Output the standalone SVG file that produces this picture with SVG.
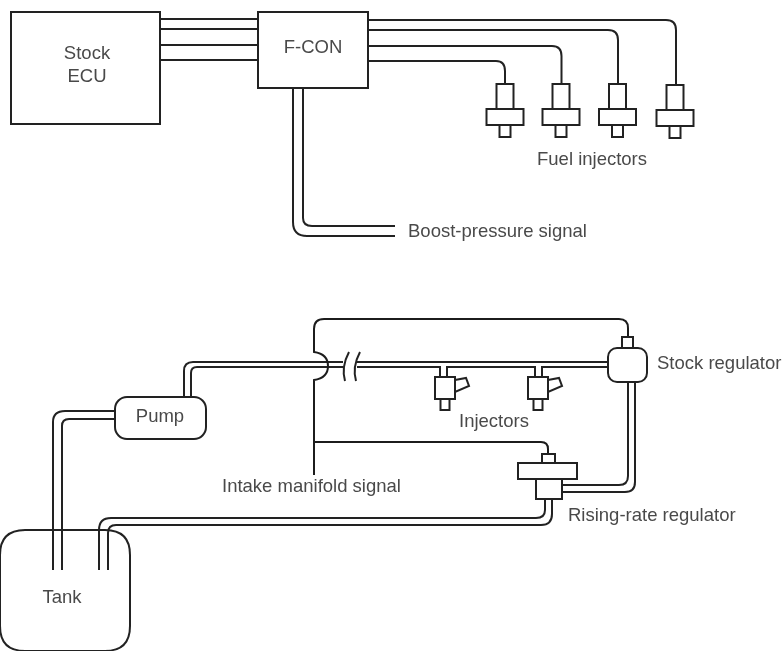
<svg xmlns="http://www.w3.org/2000/svg" width="784" height="651" viewBox="0 0 784 651">
<defs>
<style>
.s{fill:none;stroke:#222;stroke-width:2}
.b{fill:#fff;stroke:#222;stroke-width:2}
.n{fill:none;stroke:#1c1c1c;stroke-width:2}
text{font-family:"Liberation Sans",Arial,sans-serif;font-size:18.5px;fill:#4a4a4a}
.m{text-anchor:middle}
</style>
<filter id="soft" x="-2%" y="-2%" width="104%" height="104%"><feGaussianBlur stdDeviation="0.6"/></filter>
<g id="inj"><rect class="b" x="-8.500" y="0" width="17" height="25"/><rect class="b" x="-18.500" y="25" width="37" height="16"/><rect class="b" x="-5.500" y="41" width="11" height="12"/></g>
<g id="rail-inj"><path class="b" d="M10 380L21 378L24 386L10 392Z"/><rect class="b" x="-10" y="377" width="20" height="22"/><rect class="b" x="-4.500" y="399" width="9" height="11"/></g>
</defs>
<rect width="784" height="651" fill="#fff"/>
<g filter="url(#soft)">
<g id="connectors">
<path class="s" d="M160 19H258M160 29H258M160 45H258M160 60H258"/>
<path class="s" d="M368 20H666Q676 20 676 30V85M368 30H608Q618 30 618 40V84M368 46H552Q561.500 46 561.500 56V84M368 61H496Q505 61 505 71V84"/>
<path class="s" d="M293 88V222Q293 236 307 236H395M303 88V218Q303 226 312 226H395"/>
<path class="s" d="M53 570V422Q53 411 65 411H115M62 570V426Q62 419 69 419H115"/>
<path class="s" d="M184 397V371Q184 362 193 362H322M191 397V373Q191 367 197 367H322"/>
<path class="s" d="M322 362H343M322 367H343M357 362H608M357 367H608"/>
<path class="s" d="M349 352Q341 367 345 381M360 352Q352 367 356 381"/>
<path class="n" d="M628 337V328Q628 319 619 319H324Q314 319 314 329V352Q328 354 328 366Q328 378 314 380V475"/>
<path class="n" d="M314 442H541Q548 442 548 449V454"/>
<path class="s" d="M628 382V476Q628 485 619 485H562M635 382V482Q635 492 625 492H562"/>
<path class="s" d="M545 499V510Q545 518 536 518H111Q99 518 99 530V570M552 499V514Q552 525 541 525H116Q108 525 108 533V570"/>
<rect x="441" y="366" width="5" height="3" fill="#fff"/>
<rect x="536" y="366" width="5" height="3" fill="#fff"/>
<path class="s" d="M440 367V377M447 367V377M535 367V377M542 367V377"/>
</g>
<g id="stock-ecu"><rect class="b" x="11" y="12" width="149" height="112"/><text class="m" x="87" y="59">Stock</text><text class="m" x="87" y="82">ECU</text></g>
<g id="f-con"><rect class="b" x="258" y="12" width="110" height="76"/><text class="m" x="313" y="53">F-CON</text></g>
<g id="injector-1"><use href="#inj" x="505" y="84"/></g>
<g id="injector-2"><use href="#inj" x="561" y="84"/></g>
<g id="injector-3"><use href="#inj" x="617.500" y="84"/></g>
<g id="injector-4"><use href="#inj" x="675" y="85"/></g>
<g id="fuel-injectors-label"><text x="537" y="165">Fuel injectors</text></g>
<g id="boost-label"><text x="408" y="237">Boost-pressure signal</text></g>
<g id="pump"><rect class="b" x="115" y="397" width="91" height="42" rx="12"/><text class="m" x="160" y="422">Pump</text></g>
<g id="tank"><path class="s" d="M0 555Q0 530 25 530H105Q130 530 130 555V626Q130 651 105 651H25Q0 651 0 626Z"/><text class="m" x="62" y="603">Tank</text></g>
<g id="rail-injector-1"><use href="#rail-inj" x="445"/></g>
<g id="rail-injector-2"><use href="#rail-inj" x="538"/></g>
<g id="injectors-label"><text x="459" y="427">Injectors</text></g>
<g id="stock-regulator"><rect class="b" x="622" y="337" width="11" height="11"/><rect class="b" x="608" y="348" width="39" height="34" rx="9"/><text x="657" y="369">Stock regulator</text></g>
<g id="rising-rate-regulator"><rect class="b" x="542" y="454" width="13" height="9"/><rect class="b" x="518" y="463" width="59" height="16"/><rect class="b" x="536" y="479" width="26" height="20"/><text x="568" y="521">Rising-rate regulator</text></g>
<g id="intake-label"><text x="222" y="492">Intake manifold signal</text></g>
</g>
</svg>
